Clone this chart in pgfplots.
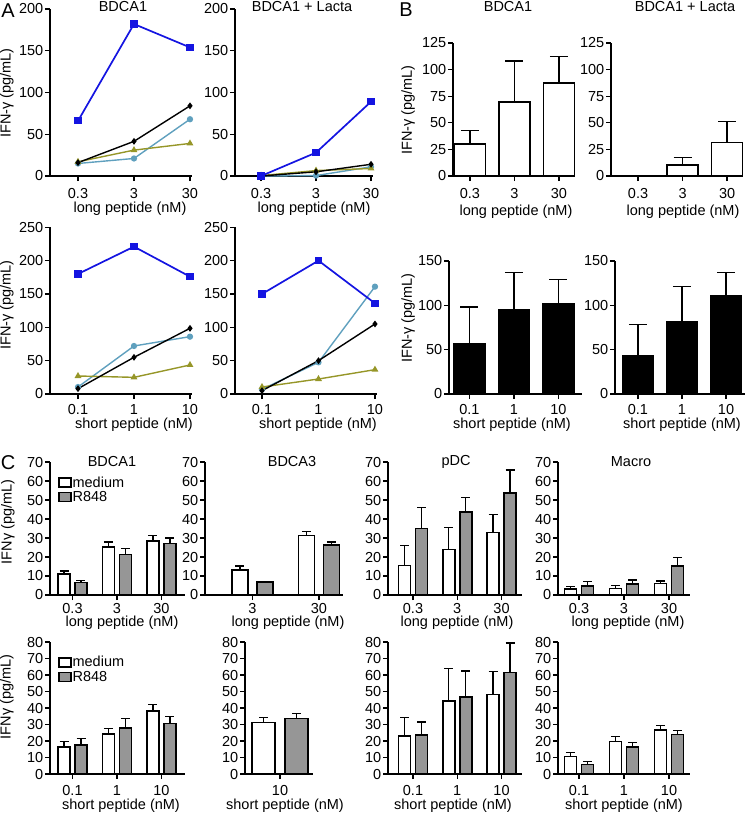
\documentclass[border=0pt]{standalone}
\usepackage{pgfplots}
\pgfplotsset{compat=1.18}
\usepackage{fontspec}
\setmainfont{Liberation Sans}
\newcommand\fs{\fontsize{14.5}{16}\selectfont}
\definecolor{cblue}{RGB}{20,20,225}
\definecolor{clblue}{RGB}{95,160,190}
\definecolor{colive}{RGB}{150,150,40}
\definecolor{cgray}{RGB}{150,150,150}
\pgfplotsset{
  base/.style={scale only axis, anchor=south west, clip=false,
    axis x line*=bottom, axis y line*=left,
    axis line style={line width=1.3pt},
    every tick/.style={line width=1.3pt, black},
    tick align=outside, major tick length=5pt,
    ticklabel style={font=\fs, inner sep=1.5pt},
    /pgf/number format/assume math mode=true,
    xtick={0,1,2}, minor tick num=0, ymin=0},
  pblue/.style={color=cblue, line width=1.7pt, mark=square*, mark size=2.7pt},
  plblue/.style={color=clblue, line width=1.4pt, mark=*, mark size=2.4pt},
  pblack/.style={color=black, line width=1.4pt, mark=diamond*, mark size=2.3pt},
  polive/.style={color=colive, line width=1.4pt, mark=triangle*, mark size=2.6pt},
  errs/.style={error bars/y dir=plus, error bars/y explicit,
    error bars/error mark=-,
    error bars/error bar style={line width=1.3pt, black},
    error bars/error mark options={rotate=90, line width=1.3pt, black, mark size=#1}},
  barB/.style={base, ybar, bar width=31pt, errs=9pt},
  barC/.style={base, ybar, bar width=12pt, errs=4.5pt},
  wbar/.style={fill=white, draw=black, line width=1.5pt},
  gbar/.style={fill=cgray, draw=black, line width=1.5pt},
  kbar/.style={fill=black, draw=black, line width=1.5pt},
  legbox/.style={draw=black, line width=1.3pt, legend image code/.code={\draw[##1] (0pt,-4.5pt) rectangle (12pt,4.5pt);}},
  leg/.style={legend style={at={(#1)}, anchor=north west, draw=none, fill=none, inner sep=0pt, font=\fs, row sep=1pt, nodes={inner sep=1pt}}, legend cell align=left},
}
\begin{document}
\begin{tikzpicture}
\useasboundingbox (0pt,0pt) rectangle (750pt,-813pt);
% ---------------- Panel A ----------------
\begin{axis}[base, at={(50pt,-176pt)}, width=142pt, height=167pt, xmin=-0.5, xmax=2.036, ymax=200, ytick={0,50,100,150,200}, xticklabels={0.3,3,30}, xticklabel style={yshift=-5.5pt}]
\addplot[plblue] coordinates {(0,15) (1,21) (2,68)};
\addplot[polive] coordinates {(0,17) (1,31) (2,39)};
\addplot[pblack] coordinates {(0,16) (1,41.5) (2,84)};
\addplot[pblue] coordinates {(0,66) (1,182) (2,154)};
\end{axis}
\begin{axis}[base, at={(235pt,-176pt)}, width=138pt, height=167pt, xmin=-0.473, xmax=2.036, ymax=200, ytick={0,50,100,150,200}, xticklabels={0.3,3,30}, xticklabel style={yshift=-5.5pt}]
\addplot[plblue] coordinates {(0,0) (1,0.5) (2,11)};
\addplot[polive] coordinates {(0,0.5) (1,6.5) (2,9)};
\addplot[pblack] coordinates {(0,0) (1,5) (2,14)};
\addplot[pblue] coordinates {(0,0) (1,28) (2,89)};
\end{axis}
\begin{axis}[base, at={(50pt,-394pt)}, width=142pt, height=166.7pt, xmin=-0.5, xmax=2.036, ymax=250, ytick={0,50,100,150,200,250}, xticklabels={0.1,1,10}, xticklabel style={yshift=-4pt}]
\addplot[plblue] coordinates {(0,10.5) (1,72) (2,86)};
\addplot[polive] coordinates {(0,27) (1,25) (2,43.5)};
\addplot[pblack] coordinates {(0,8) (1,55) (2,98.5)};
\addplot[pblue] coordinates {(0,180) (1,221) (2,176)};
\end{axis}
\begin{axis}[base, at={(235pt,-394pt)}, width=142pt, height=166.7pt, xmin=-0.478, xmax=2.036, ymax=250, ytick={0,50,100,150,200,250}, xticklabels={0.1,1,10}, xticklabel style={yshift=-4pt}]
\addplot[plblue] coordinates {(0,7) (1,47.5) (2,161)};
\addplot[polive] coordinates {(0,10.5) (1,22.5) (2,36.5)};
\addplot[pblack] coordinates {(0,5) (1,50) (2,105)};
\addplot[pblue] coordinates {(0,150) (1,200) (2,136)};
\end{axis}
% ---------------- Panel B ----------------
\begin{axis}[barB, at={(453pt,-176pt)}, width=122pt, height=133pt, xmin=-0.38, xmax=2.36, ymax=125, ytick={0,25,50,75,100,125}, xticklabels={0.3,3,30}, xticklabel style={yshift=-5.5pt}]
\addplot[wbar] coordinates {(0,30) +- (0,12.5) (1,69.5) +- (0,38.5) (2,87.5) +- (0,25)};
\end{axis}
\begin{axis}[barB, at={(611pt,-176pt)}, width=129pt, height=133pt, xmin=-0.607, xmax=2.29, ymax=125, ytick={0,25,50,75,100,125}, xticklabels={0.3,3,30}, xticklabel style={yshift=-5.5pt}]
\addplot[wbar] coordinates {(1,10.5) +- (0,7) (2,31.5) +- (0,19.5)};
\end{axis}
\begin{axis}[barB, at={(449pt,-394pt)}, width=133pt, height=133pt, xmin=-0.46, xmax=2.53, ymax=150, ytick={0,50,100,150}, xticklabels={0.1,1,10}, xticklabel style={yshift=-4pt}]
\addplot[kbar] coordinates {(0,57) +- (0,41) (1,94.5) +- (0,42.5) (2,102) +- (0,27)};
\end{axis}
\begin{axis}[barB, at={(615pt,-394pt)}, width=130pt, height=133pt, xmin=-0.52, xmax=2.43, ymax=150, ytick={0,50,100,150}, xticklabels={0.1,1,10}, xticklabel style={yshift=-4pt}]
\addplot[kbar] coordinates {(0,43.5) +- (0,35) (1,81.5) +- (0,40) (2,111) +- (0,26)};
\end{axis}
% ---------------- Panel C, top ----------------
\begin{axis}[barC, at={(50pt,-595pt)}, width=135pt, height=133pt, xmin=-0.506, xmax=2.53, ymax=70, ytick={0,10,...,70}, xticklabels={0.3,3,30}, xticklabel style={yshift=-1.5pt}, leg={0.06,0.9}]
\addplot[wbar, bar shift=-8.5pt, forget plot] coordinates {(0,11.1) +- (0,1.6) (1,25.3) +- (0,2.6) (2,28.4) +- (0,3)};
\addplot[gbar, bar shift=8.5pt, forget plot] coordinates {(0,6.6) +- (0,1.1) (1,21.3) +- (0,3.3) (2,27) +- (0,3)};
\addlegendimage{legbox, fill=white}
\addlegendentry{medium}
\addlegendimage{legbox, fill=cgray}
\addlegendentry{R848}
\end{axis}
\begin{axis}[barC, bar width=16pt, at={(205pt,-595pt)}, width=138pt, height=133pt, xmin=-0.714, xmax=1.361, ymax=70, ytick={0,10,...,70}, xtick={0,1}, xticklabels={3,30}, xticklabel style={yshift=-1.5pt}]
\addplot[wbar, bar shift=-12.5pt] coordinates {(0,13.1) +- (0,2.1) (1,31.2) +- (0,2.4)};
\addplot[gbar, bar shift=12.5pt] coordinates {(0,6.8) +- (0,0.3) (1,26.3) +- (0,1.6)};
\end{axis}
\begin{axis}[barC, at={(388pt,-595pt)}, width=134pt, height=133pt, xmin=-0.565, xmax=2.463, ymax=70, ytick={0,10,...,70}, xticklabels={0.3,3,30}, xticklabel style={yshift=-1.5pt}]
\addplot[wbar, bar shift=-8.5pt] coordinates {(0,15.4) +- (0,10.6) (1,24) +- (0,11.4) (2,32.9) +- (0,9.5)};
\addplot[gbar, bar shift=8.5pt] coordinates {(0,35) +- (0,11) (1,43.8) +- (0,7.5) (2,53.8) +- (0,12)};
\end{axis}
\begin{axis}[barC, at={(558pt,-595pt)}, width=132pt, height=133pt, xmin=-0.467, xmax=2.467, ymax=70, ytick={0,10,...,70}, xticklabels={0.3,3,30}, xticklabel style={yshift=-1.5pt}]
\addplot[wbar, bar shift=-8.5pt] coordinates {(0,3.2) +- (0,1.2) (1,3.5) +- (0,1.4) (2,6.1) +- (0,1.3)};
\addplot[gbar, bar shift=8.5pt] coordinates {(0,4.7) +- (0,2.3) (1,5.8) +- (0,2.1) (2,15.2) +- (0,4.6)};
\end{axis}
% ---------------- Panel C, bottom ----------------
\begin{axis}[barC, at={(50pt,-774pt)}, width=135pt, height=132pt, xmin=-0.506, xmax=2.53, ymax=80, ytick={0,10,...,80}, xticklabels={0.1,1,10}, xticklabel style={yshift=-5pt}, leg={0.06,0.9}]
\addplot[wbar, bar shift=-8.5pt, forget plot] coordinates {(0,16.5) +- (0,3) (1,24.2) +- (0,3.4) (2,38.1) +- (0,4.2)};
\addplot[gbar, bar shift=8.5pt, forget plot] coordinates {(0,17.5) +- (0,4.1) (1,28) +- (0,5.7) (2,30.6) +- (0,4.1)};
\addlegendimage{legbox, fill=white}
\addlegendentry{medium}
\addlegendimage{legbox, fill=cgray}
\addlegendentry{R848}
\end{axis}
\begin{axis}[barC, bar width=23pt, at={(245pt,-774pt)}, width=68pt, height=132pt, xmin=-35, xmax=33, ymax=80, ytick={0,10,...,80}, xtick={0}, xticklabels={10}, xticklabel style={yshift=-5pt}]
\addplot[wbar, bar shift=-16.5pt] coordinates {(0,31.2) +- (0,3.1)};
\addplot[gbar, bar shift=16.5pt] coordinates {(0,33.7) +- (0,3)};
\end{axis}
\begin{axis}[barC, at={(388pt,-774pt)}, width=134pt, height=132pt, xmin=-0.565, xmax=2.463, ymax=80, ytick={0,10,...,80}, xticklabels={0.1,1,10}, xticklabel style={yshift=-5pt}]
\addplot[wbar, bar shift=-8.5pt] coordinates {(0,23) +- (0,11.3) (1,44.1) +- (0,19.8) (2,48.2) +- (0,14.1)};
\addplot[gbar, bar shift=8.5pt] coordinates {(0,23.6) +- (0,8) (1,46.8) +- (0,15.7) (2,61.5) +- (0,17.9)};
\end{axis}
\begin{axis}[barC, at={(558pt,-774pt)}, width=132pt, height=132pt, xmin=-0.467, xmax=2.467, ymax=80, ytick={0,10,...,80}, xticklabels={0.1,1,10}, xticklabel style={yshift=-5pt}]
\addplot[wbar, bar shift=-8.5pt] coordinates {(0,10.5) +- (0,2.6) (1,19.7) +- (0,2.9) (2,26.6) +- (0,3)};
\addplot[gbar, bar shift=8.5pt] coordinates {(0,5.8) +- (0,1.7) (1,16.5) +- (0,2.4) (2,23.8) +- (0,2.4)};
\end{axis}
% ---------------- text ----------------
\begin{scope}[every node/.style={font=\fs, inner sep=0.5pt}]
\node at (123pt,-7pt) {BDCA1};
\node at (302pt,-7pt) {BDCA1 + Lacta};
\node at (508pt,-7pt) {BDCA1};
\node at (685pt,-7pt) {BDCA1 + Lacta};
\node at (130pt,-208.5pt) {long peptide (nM)};
\node at (314pt,-208.5pt) {long peptide (nM)};
\node at (134pt,-425pt) {short peptide (nM)};
\node at (318pt,-425pt) {short peptide (nM)};
\node at (516pt,-212pt) {long peptide (nM)};
\node at (683pt,-212pt) {long peptide (nM)};
\node at (512pt,-425pt) {short peptide (nM)};
\node at (682pt,-425pt) {short peptide (nM)};
\node[rotate=90] at (7pt,-93pt) {IFN-γ (pg/mL)};
\node[rotate=90] at (7pt,-305pt) {IFN-γ (pg/mL)};
\node[rotate=90] at (408pt,-110pt) {IFN-γ (pg/mL)};
\node[rotate=90] at (408pt,-318pt) {IFN-γ (pg/mL)};
\node at (112pt,-462pt) {BDCA1};
\node at (292pt,-462pt) {BDCA3};
\node at (456pt,-462pt) {pDC};
\node at (631pt,-462pt) {Macro};
\node at (122pt,-623pt) {long peptide (nM)};
\node at (288pt,-623pt) {long peptide (nM)};
\node at (457pt,-623pt) {long peptide (nM)};
\node at (628pt,-623pt) {long peptide (nM)};
\node at (121pt,-806pt) {short peptide (nM)};
\node at (285pt,-806pt) {short peptide (nM)};
\node at (453pt,-806pt) {short peptide (nM)};
\node at (624pt,-806pt) {short peptide (nM)};
\node[rotate=90] at (8pt,-522pt) {IFNγ (pg/mL)};
\node[rotate=90] at (7pt,-697pt) {IFNγ (pg/mL)};
\end{scope}
\begin{scope}[every node/.style={font=\fontsize{20}{22}\selectfont}]
\node at (8pt,-11pt) {A};
\node at (406pt,-10pt) {B};
\node at (8pt,-463pt) {C};
\end{scope}
\end{tikzpicture}
\end{document}
